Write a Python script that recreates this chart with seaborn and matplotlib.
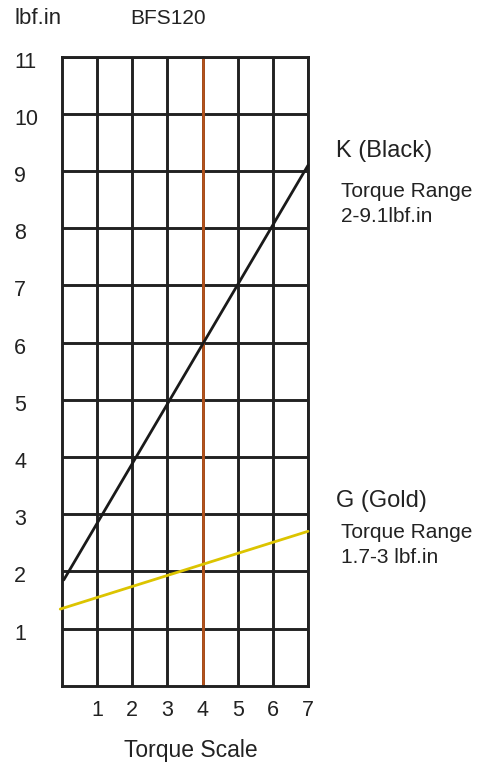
import matplotlib
matplotlib.use("Agg")
import matplotlib.pyplot as plt
import matplotlib.transforms as mtransforms
import pandas as pd
import seaborn as sns

# data
scale_ticks = [1, 2, 3, 4, 5, 6, 7]
torque_ticks = [1, 2, 3, 4, 5, 6, 7, 8, 9, 10, 11]
black_scale = [0.05, 7.0]
black_torque = [1.85, 9.1]
gold_scale = [-0.05, 7.0]
gold_torque = [1.34, 2.7]
marker_scale = 4

sns.set_theme(style="white")
plt.rcParams["font.family"] = ["Liberation Sans", "DejaVu Sans"]

W, H = 479, 765
fig = plt.figure(figsize=(W / 100, H / 100), dpi=100)
ax = fig.add_axes([62 / W, 1 - 685.7 / H, 246 / W, 629 / H])

grid_color = "#222222"
ax.set_xlim(0, 7)
ax.set_ylim(0, 11)
ax.set_xticks(scale_ticks)
ax.set_yticks(torque_ticks)
ax.grid(True, color=grid_color, linewidth=2.1)
for spine in ax.spines.values():
    spine.set_color(grid_color)
    spine.set_linewidth(2.1)

ax.axvline(marker_scale, color="#b5531c", linewidth=2.0, zorder=2)

df = pd.DataFrame({
    "scale": black_scale + gold_scale,
    "torque": black_torque + gold_torque,
    "colour": ["K"] * 2 + ["G"] * 2,
})
sns.lineplot(data=df, x="scale", y="torque", hue="colour",
             palette={"K": "#1a1a1a", "G": "#dcc400"}, linewidth=2.0,
             legend=False, ax=ax, zorder=3)
for line in ax.lines:
    line.set_clip_on(False)

ax.tick_params(axis="both", length=0, labelsize=15.5, colors="#222222")
ax.tick_params(axis="x", pad=10.5)
ax.tick_params(axis="y", pad=34.5)
shift = mtransforms.ScaledTranslation(0, -3 / 100, fig.dpi_scale_trans)
for lab in ax.get_yticklabels():
    lab.set_horizontalalignment("left")
    lab.set_transform(lab.get_transform() + shift)

ax.set_xlabel("Torque Scale", fontsize=16.5, color="#222222")
ax.set_ylabel("")
ax.xaxis.label.set_va("baseline")
ax.xaxis.set_label_coords((191 - 62) / 246, -(757 - 685.7) / 629)


def put(x, y, s, size):
    fig.text(x / W, 1 - y / H, s, fontsize=size, color="#222222", va="baseline")


put(14, 24, "lbf.in", 16)
put(130, 24, "BFS120", 15)
put(336, 157, "K (Black)", 17)
put(341, 197, "Torque Range", 15)
put(341, 222, "2-9.1lbf.in", 15)
put(336, 507, "G (Gold)", 17)
put(341, 538, "Torque Range", 15)
put(341, 563, "1.7-3 lbf.in", 15)

fig.savefig("out.png", dpi=100)
